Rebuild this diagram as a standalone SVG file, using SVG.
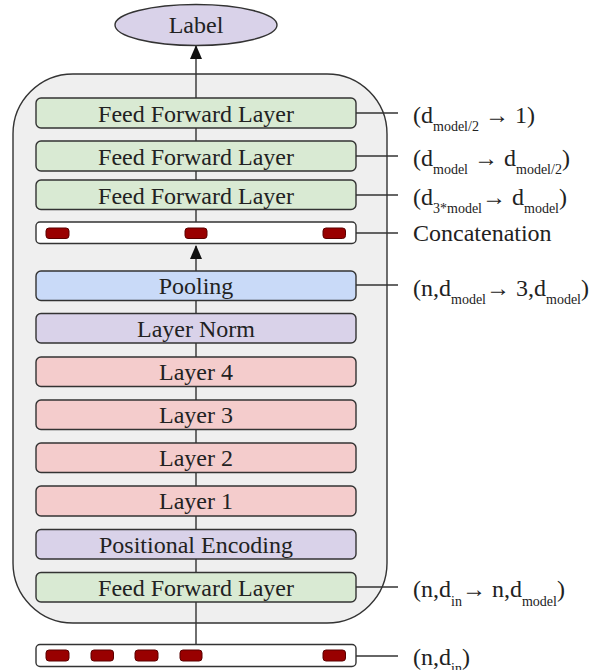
<svg xmlns="http://www.w3.org/2000/svg" width="602" height="670" viewBox="0 0 602 670">
  <style>
    .box { stroke: #333333; stroke-width: 1.4; }
    .ff { fill: #d9ead3; }
    .pool { fill: #c9daf8; }
    .norm { fill: #d9d2e9; }
    .layer { fill: #f4cccc; }
    .bar { fill: #ffffff; }
    .tok { fill: #990000; stroke: #5b0000; stroke-width: 1; }
    .lbl { font-family: "Liberation Serif", "Times New Roman", serif; font-size: 24px; fill: #222222; text-anchor: middle; }
    .dim { font-family: "Liberation Serif", "Times New Roman", serif; font-size: 24px; fill: #222222; }
    .sub { font-size: 14px; }
    .wire { stroke: #333333; stroke-width: 1.4; fill: none; }
  </style>
  <defs>
    <!-- filled arrowhead, drawn along +x so orient="auto" follows the line -->
    <marker id="head" viewBox="0 0 14 12" refX="13" refY="6" markerWidth="14" markerHeight="12" markerUnits="userSpaceOnUse" orient="auto">
      <path d="M0,0 L14,6 L0,12 Z" fill="#111111"/>
    </marker>
  </defs>

  <!-- encoder container -->
  <rect id="container" x="13" y="74" width="374" height="549" rx="60" ry="60" fill="#efefef" stroke="#333333" stroke-width="1.4"/>

  <!-- connectors -->
  <g id="connectors">
    <!-- main vertical flow -->
    <line class="wire" x1="196" y1="644" x2="196" y2="602"/>
    <line class="wire" x1="196" y1="573" x2="196" y2="559"/>
    <line class="wire" x1="196" y1="529" x2="196" y2="516"/>
    <line class="wire" x1="196" y1="486" x2="196" y2="472"/>
    <line class="wire" x1="196" y1="443" x2="196" y2="429"/>
    <line class="wire" x1="196" y1="400" x2="196" y2="386"/>
    <line class="wire" x1="196" y1="357" x2="196" y2="343"/>
    <line class="wire" x1="196" y1="313" x2="196" y2="300"/>
    <line class="wire" x1="196" y1="271" x2="196" y2="246" marker-end="url(#head)"/>
    <line class="wire" x1="196" y1="222" x2="196" y2="209"/>
    <line class="wire" x1="196" y1="180" x2="196" y2="171"/>
    <line class="wire" x1="196" y1="141" x2="196" y2="128"/>
    <line class="wire" x1="196" y1="98" x2="196" y2="46" marker-end="url(#head)"/>
    <!-- dimension leaders -->
    <line class="wire" x1="356" y1="113" x2="398" y2="113"/>
    <line class="wire" x1="356" y1="156" x2="398" y2="156"/>
    <line class="wire" x1="356" y1="195" x2="398" y2="195"/>
    <line class="wire" x1="356" y1="233" x2="398" y2="233"/>
    <line class="wire" x1="356" y1="285" x2="398" y2="285"/>
    <line class="wire" x1="356" y1="587" x2="398" y2="587"/>
    <line class="wire" x1="356" y1="656" x2="398" y2="656"/>
  </g>

  <!-- output label -->
  <g id="label">
    <ellipse cx="196" cy="25" rx="81" ry="20.5" fill="#d9d2e9" stroke="#333333" stroke-width="1.4"/>
    <text class="lbl" x="196" y="33">Label</text>
  </g>

  <g id="ffl-out">
    <rect class="box ff" x="36" y="98" width="320" height="30" rx="5"/>
    <text class="lbl" x="196" y="122">Feed Forward Layer</text>
  </g>
  <g id="ffl-mid">
    <rect class="box ff" x="36" y="141" width="320" height="30" rx="5"/>
    <text class="lbl" x="196" y="165">Feed Forward Layer</text>
  </g>
  <g id="ffl-concat">
    <rect class="box ff" x="36" y="180" width="320" height="29.5" rx="5"/>
    <text class="lbl" x="196" y="204">Feed Forward Layer</text>
  </g>

  <g id="concatenation">
    <rect class="box bar" x="36" y="222" width="320" height="21.5" rx="4"/>
    <rect class="tok" x="46" y="228" width="23" height="10.5" rx="3"/>
    <rect class="tok" x="185" y="228" width="22" height="10.5" rx="3"/>
    <rect class="tok" x="323" y="228" width="22.5" height="10.5" rx="3"/>
  </g>

  <g id="pooling">
    <rect class="box pool" x="36" y="271" width="320" height="29.5" rx="5"/>
    <text class="lbl" x="196" y="294">Pooling</text>
  </g>
  <g id="layer-norm">
    <rect class="box norm" x="36" y="313.5" width="320" height="29.5" rx="5"/>
    <text class="lbl" x="196" y="337">Layer Norm</text>
  </g>
  <g id="layer-4">
    <rect class="box layer" x="36" y="357" width="320" height="29.5" rx="5"/>
    <text class="lbl" x="196" y="380">Layer 4</text>
  </g>
  <g id="layer-3">
    <rect class="box layer" x="36" y="400" width="320" height="29.5" rx="5"/>
    <text class="lbl" x="196" y="423">Layer 3</text>
  </g>
  <g id="layer-2">
    <rect class="box layer" x="36" y="443" width="320" height="29.5" rx="5"/>
    <text class="lbl" x="196" y="466">Layer 2</text>
  </g>
  <g id="layer-1">
    <rect class="box layer" x="36" y="486" width="320" height="30" rx="5"/>
    <text class="lbl" x="196" y="509">Layer 1</text>
  </g>
  <g id="positional-encoding">
    <rect class="box norm" x="36" y="529.5" width="320" height="29.5" rx="5"/>
    <text class="lbl" x="196" y="553">Positional Encoding</text>
  </g>
  <g id="ffl-in">
    <rect class="box ff" x="36" y="572.5" width="320" height="29.5" rx="5"/>
    <text class="lbl" x="196" y="596">Feed Forward Layer</text>
  </g>

  <g id="input">
    <rect class="box bar" x="36" y="644.5" width="320" height="22" rx="4"/>
    <rect class="tok" x="46" y="650" width="23" height="11" rx="3"/>
    <rect class="tok" x="91" y="650" width="22.5" height="11" rx="3"/>
    <rect class="tok" x="135" y="650" width="23" height="11" rx="3"/>
    <rect class="tok" x="180" y="650" width="22" height="11" rx="3"/>
    <rect class="tok" x="323" y="650" width="22.5" height="11" rx="3"/>
  </g>

  <!-- tensor shape annotations -->
  <g id="shapes">
    <text class="dim" x="413" y="123">(d<tspan class="sub" dy="8">model/2</tspan><tspan dy="-8"> → 1)</tspan></text>
    <text class="dim" x="413" y="166">(d<tspan class="sub" dy="8">model</tspan><tspan dy="-8"> → d</tspan><tspan class="sub" dy="8">model/2</tspan><tspan dy="-8">)</tspan></text>
    <text class="dim" x="413" y="205">(d<tspan class="sub" dy="8">3*model</tspan><tspan dy="-8">→ d</tspan><tspan class="sub" dy="8">model</tspan><tspan dy="-8">)</tspan></text>
    <text class="dim" x="413" y="241">Concatenation</text>
    <text class="dim" x="413" y="296">(n,d<tspan class="sub" dy="8">model</tspan><tspan dy="-8">→ 3,d</tspan><tspan class="sub" dy="8">model</tspan><tspan dy="-8">)</tspan></text>
    <text class="dim" x="413" y="597">(n,d<tspan class="sub" dy="9">in</tspan><tspan dy="-9">→ n,d</tspan><tspan class="sub" dy="9">model</tspan><tspan dy="-9">)</tspan></text>
    <text class="dim" x="413" y="665">(n,d<tspan class="sub" dy="8">in</tspan><tspan dy="-8">)</tspan></text>
  </g>
</svg>
